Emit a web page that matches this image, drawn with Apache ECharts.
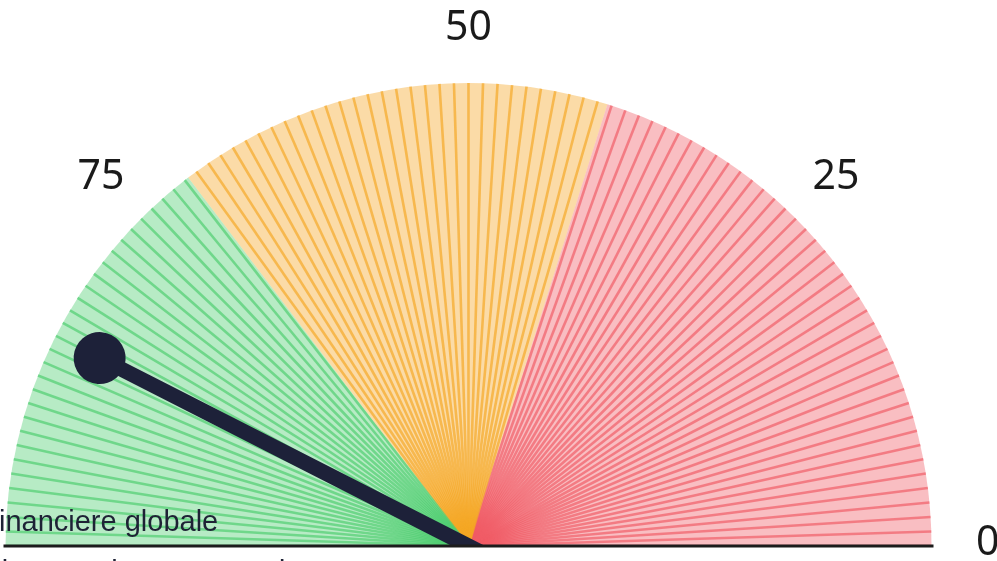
<!DOCTYPE html>
<html><head><meta charset="utf-8">
<script src="https://cdn.jsdelivr.net/npm/echarts@6/dist/echarts.min.js"></script>
<style>html,body{margin:0;padding:0;background:#fff;overflow:hidden}#c{width:997px;height:561px}</style>
</head><body><div id="c"></div>
<script>
// ---- data ----
const axisMin = 0;
const axisMax = 100;
const needleValue = [85];
const zoneEnds = [40.3, 70.7, 100];           // red, orange, green upper bounds
const zoneColors = ['240,92,102', '245,166,35', '76,205,110'];
const tickLabels = [0, 25, 50, 75, 100];
const stripeCount = 100;
const titleText = 'Situation financiere globale';
const subText = 'Evaluations sur la moyenne du secteur';

// ---- layout ----
const CX = 468.5, CY = 546, R = 463;
const LABEL_R = 560;

const span = axisMax - axisMin;
const fillStops = zoneEnds.map((e, i) => [(e - axisMin) / span, 'rgba(' + zoneColors[i] + ',0.4)']);
const solidStops = zoneEnds.map((e, i) => [(e - axisMin) / span, 'rgb(' + zoneColors[i] + ')']);

const common = {
  type: 'gauge', center: [CX, CY], radius: R,
  startAngle: 0, endAngle: 180, clockwise: false,
  min: axisMin, max: axisMax, silent: true, animation: false,
  detail: { show: false }, title: { show: false }, anchor: { show: false },
  pointer: { show: false }, axisTick: { show: false }, axisLabel: { show: false },
  splitLine: { show: false }, progress: { show: false }, data: []
};

const labelRich = {
  v0:   { padding: [0, 29, 6, 0] },
  v25:  { padding: [54, 5, 0, 0] },
  v50:  { padding: [22, 0, 0, 0] },
  v75:  { padding: [54, 0, 0, 5] },
  v100: { padding: [0, 0, 0, 0] }
};
Object.keys(labelRich).forEach(k => Object.assign(labelRich[k], { fontSize: 41, fontFamily: 'Noto Sans', color: '#1a1a1a' }));

const titleStyle = { fontFamily: 'Liberation Sans', fontSize: 29, fontWeight: 'normal', color: '#1e2235' };

const chart = echarts.init(document.getElementById('c'), null, { renderer: 'canvas' });
chart.setOption({
  backgroundColor: '#fff',
  title: [
    { text: titleText, left: -130, top: 508, padding: 0, textStyle: titleStyle },
    { text: subText, left: -95, top: 558, padding: 0, textStyle: titleStyle }
  ],
  series: [
    Object.assign({}, common, {
      axisLine: { show: true, lineStyle: { width: R, color: fillStops } }
    }),
    Object.assign({}, common, {
      splitNumber: stripeCount,
      axisLine: { show: true, lineStyle: { width: 0, color: solidStops } },
      splitLine: { show: true, length: R, distance: 0, lineStyle: { color: 'auto', width: 2.6, opacity: 0.68 } }
    }),
    Object.assign({}, common, {
      splitNumber: tickLabels.length - 1,
      axisLine: { show: false, lineStyle: { width: 0 } },
      splitLine: { show: false, length: 0, distance: 0 },
      axisLabel: {
        show: true, distance: R - LABEL_R,
        formatter: v => tickLabels.indexOf(v) >= 0 ? '{v' + v + '|' + v + '}' : '',
        rich: labelRich, fontSize: 41, fontFamily: 'Noto Sans', color: '#1a1a1a'
      }
    }),
    Object.assign({}, common, {
      axisLine: { show: false, lineStyle: { width: 0 } },
      pointer: {
        show: true,
        icon: 'path://M26 0 A26 26 0 1 1 26 52 A26 26 0 1 1 26 0 Z M18.5 26 L33.5 26 L33.5 456 L18.5 456 Z',
        length: 456, width: 52, offsetCenter: [0, 16],
        itemStyle: { color: '#1d2139' }
      },
      data: [{ value: needleValue[0] }]
    })
  ],
  graphic: [
    {
      type: 'rect', z: 4,
      shape: { x: CX - R - 6, y: CY + 1, width: 2 * R + 12, height: 40 },
      style: { fill: '#ffffff' }
    },
    {
      type: 'line', z: 5,
      shape: { x1: CX - R - 2, y1: CY, x2: CX + R + 2, y2: CY },
      style: { stroke: '#1c1c1c', lineWidth: 3 }
    }
  ]
});
</script></body></html>
